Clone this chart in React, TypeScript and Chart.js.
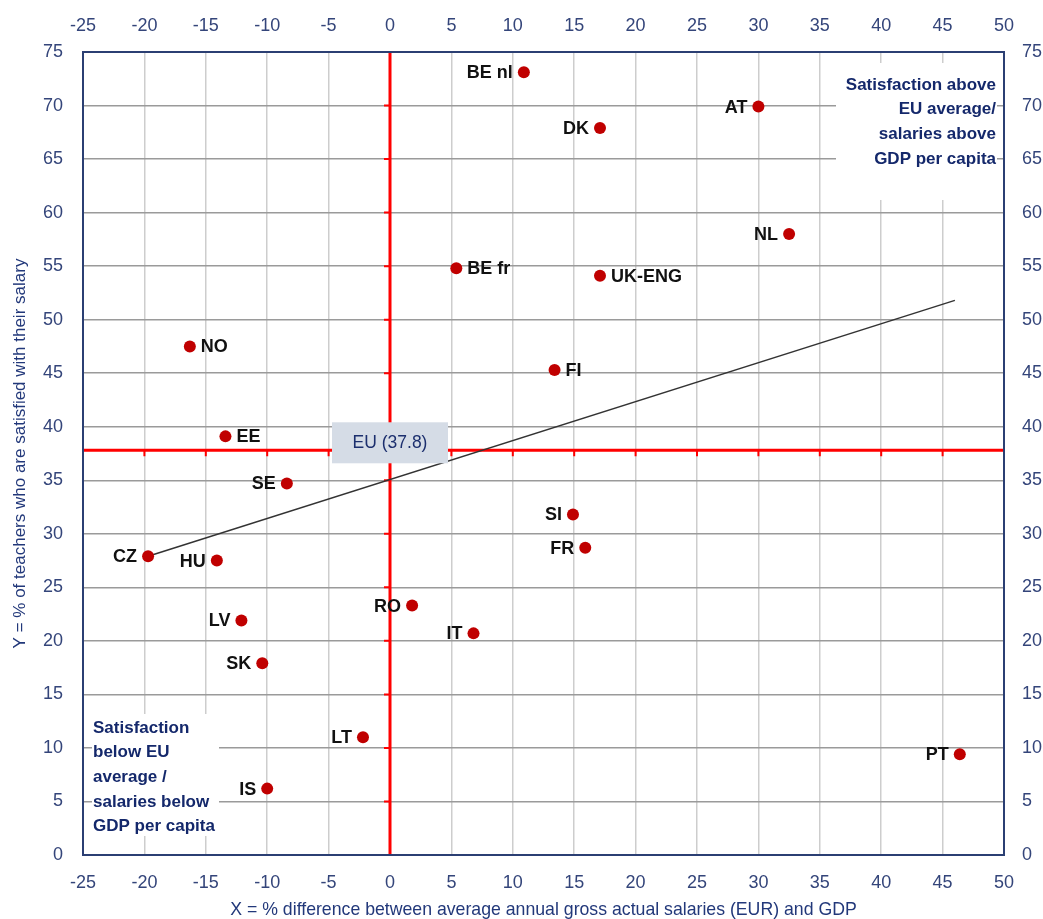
import React, { useEffect, useRef } from 'react';
import { Chart, registerables } from 'chart.js';

Chart.register(...registerables);

// ---- Data ----
const countries = ['BE nl', 'AT', 'DK', 'NL', 'BE fr', 'UK-ENG', 'NO', 'FI', 'EE', 'SE', 'SI', 'FR', 'CZ', 'HU', 'RO', 'LV', 'IT', 'SK', 'LT', 'IS', 'PT'];
const salaryDiff = [10.9, 30.0, 17.1, 32.5, 5.4, 17.1, -16.3, 13.4, -13.4, -8.4, 14.9, 15.9, -19.7, -14.1, 1.8, -12.1, 6.8, -10.4, -2.2, -10.0, 46.4];
const satisfaction = [73.1, 69.9, 67.9, 58.0, 54.8, 54.1, 47.5, 45.3, 39.1, 34.7, 31.8, 28.7, 27.9, 27.5, 23.3, 21.9, 20.7, 17.9, 11.0, 6.2, 9.4];
const labelSide = ['left', 'left', 'left', 'left', 'right', 'right', 'right', 'right', 'right', 'left', 'left', 'left', 'left', 'left', 'left', 'left', 'left', 'left', 'left', 'left', 'left'];
const trendX = [-19.7, 46.0];
const trendY = [27.9, 51.8];
const euAverage = 37.8;
const euLabel = 'EU (37.8)';
const xRange = [-25, 50];
const yRange = [0, 75];
const tickStep = 5;
const xTitle = 'X = % difference between average annual gross actual salaries (EUR) and GDP';
const yTitle = 'Y = % of teachers who are satisfied with their salary';
const quadrantTopRight = ['Satisfaction above', 'EU average/', 'salaries above', 'GDP per capita'];
const quadrantBottomLeft = ['Satisfaction', 'below EU', 'average /', 'salaries below', 'GDP per capita'];

const FONT = "'Liberation Sans', Arial, sans-serif";
const TICK_COLOR = '#34457a';
const TITLE_COLOR = '#22387a';
const NAVY = '#14286b';
const RED = '#ff0000';

const overlayPlugin = {
  id: 'overlay',
  beforeDatasetsDraw(chart: any) {
    const { ctx, chartArea: a, scales } = chart;
    const xs = scales.x;
    const ys = scales.y;
    ctx.save();
    // white boxes for quadrant notes
    ctx.fillStyle = '#ffffff';
    ctx.fillRect(a.right - 168, a.top + 11, 161, 137);
    ctx.fillRect(a.left + 9, a.bottom - 141, 127, 122);
    ctx.fillStyle = NAVY;
    ctx.font = `bold 17px ${FONT}`;
    ctx.textBaseline = 'middle';
    ctx.textAlign = 'right';
    quadrantTopRight.forEach((t, i) => ctx.fillText(t, a.right - 8, a.top + 33 + i * 24.7));
    ctx.textAlign = 'left';
    quadrantBottomLeft.forEach((t, i) => ctx.fillText(t, a.left + 10, a.bottom - 127 + i * 24.7));

    // red reference lines
    const x0 = xs.getPixelForValue(0);
    const yEu = ys.getPixelForValue(euAverage);
    ctx.strokeStyle = RED;
    ctx.lineWidth = 3;
    ctx.beginPath();
    ctx.moveTo(x0, a.top);
    ctx.lineTo(x0, a.bottom);
    ctx.moveTo(a.left, yEu);
    ctx.lineTo(a.right, yEu);
    ctx.stroke();
    ctx.lineWidth = 2;
    ctx.beginPath();
    for (let v = xRange[0]; v <= xRange[1]; v += tickStep) {
      const px = xs.getPixelForValue(v);
      ctx.moveTo(px, yEu);
      ctx.lineTo(px, yEu + 6);
    }
    for (let v = yRange[0]; v <= yRange[1]; v += tickStep) {
      const py = ys.getPixelForValue(v);
      ctx.moveTo(x0, py);
      ctx.lineTo(x0 - 6, py);
    }
    ctx.stroke();
    ctx.restore();
  },
  afterDatasetsDraw(chart: any) {
    const { ctx, chartArea: a, scales } = chart;
    const xs = scales.x;
    const ys = scales.y;
    ctx.save();
    // EU label box
    const x0 = xs.getPixelForValue(0);
    const yEu = ys.getPixelForValue(euAverage);
    ctx.fillStyle = '#d5dce6';
    ctx.fillRect(x0 - 58, yEu - 28, 116, 41);
    ctx.fillStyle = '#1c2f6e';
    ctx.font = `17.5px ${FONT}`;
    ctx.textAlign = 'center';
    ctx.textBaseline = 'middle';
    ctx.fillText(euLabel, x0, yEu - 7);

    // data labels
    ctx.fillStyle = '#111111';
    ctx.font = `bold 18px ${FONT}`;
    const meta = chart.getDatasetMeta(0);
    meta.data.forEach((pt: any, i: number) => {
      const side = labelSide[i];
      ctx.textAlign = side === 'left' ? 'right' : 'left';
      const dx = side === 'left' ? -11 : 11;
      ctx.fillText(countries[i], pt.x + dx, pt.y + 1);
    });

    // plot frame
    ctx.strokeStyle = '#2b3f73';
    ctx.lineWidth = 2;
    ctx.strokeRect(a.left, a.top, a.right - a.left, a.bottom - a.top);
    ctx.restore();
  },
};

export default function App() {
  const canvasRef = useRef<HTMLCanvasElement | null>(null);

  useEffect(() => {
    if (!canvasRef.current) return;
    const points = countries.map((_, i) => ({ x: salaryDiff[i], y: satisfaction[i] }));
    const trend = trendX.map((x, i) => ({ x, y: trendY[i] }));
    const tickFont = { family: FONT, size: 18 };

    const chart = new Chart(canvasRef.current, {
      type: 'scatter',
      data: {
        datasets: [
          {
            label: 'Countries',
            data: points,
            backgroundColor: '#c00000',
            borderWidth: 0,
            pointRadius: 6,
            pointHoverRadius: 6,
          },
          {
            label: 'Trend',
            data: trend,
            showLine: true,
            borderColor: '#333333',
            borderWidth: 1.5,
            pointRadius: 0,
            fill: false,
          } as any,
        ],
      },
      options: {
        animation: false,
        responsive: true,
        maintainAspectRatio: false,
        layout: { padding: 0 },
        plugins: { legend: { display: false }, tooltip: { enabled: false } },
        scales: {
          x: {
            type: 'linear',
            position: 'bottom',
            min: xRange[0],
            max: xRange[1],
            ticks: { stepSize: tickStep, color: TICK_COLOR, font: tickFont, padding: 17 },
            grid: { color: '#cdcdcd', lineWidth: 1.5, drawTicks: false },
            border: { display: false },
            title: {
              display: true,
              text: xTitle,
              color: TITLE_COLOR,
              font: { family: FONT, size: 17.7 },
              padding: { top: 0, bottom: -2 },
            },
            afterFit: (s: any) => { s.height = 64; },
          },
          x2: {
            type: 'linear',
            position: 'top',
            min: xRange[0],
            max: xRange[1],
            ticks: { stepSize: tickStep, color: TICK_COLOR, font: tickFont, padding: 15 },
            grid: { display: false, drawTicks: false },
            border: { display: false },
            afterFit: (s: any) => { s.height = 52; },
          },
          y: {
            type: 'linear',
            position: 'left',
            min: yRange[0],
            max: yRange[1],
            ticks: { stepSize: tickStep, color: TICK_COLOR, font: tickFont, padding: 20 },
            grid: { color: '#9a9a9a', lineWidth: 1.5, drawTicks: false },
            border: { display: false },
            title: {
              display: true,
              text: yTitle,
              color: TITLE_COLOR,
              font: { family: FONT, size: 17 },
              padding: { top: 10, bottom: 0 },
            },
            afterFit: (s: any) => { s.width = 83; },
          },
          y2: {
            type: 'linear',
            position: 'right',
            min: yRange[0],
            max: yRange[1],
            ticks: { stepSize: tickStep, color: TICK_COLOR, font: tickFont, padding: 18 },
            grid: { display: false, drawTicks: false },
            border: { display: false },
            afterFit: (s: any) => { s.width = 39; },
          },
        },
      },
      plugins: [overlayPlugin],
    });
    return () => chart.destroy();
  }, []);

  return (
    <div style={{ position: 'absolute', left: 0, top: 0, width: 1043, height: 919, background: '#ffffff' }}>
      <canvas ref={canvasRef} />
    </div>
  );
}
